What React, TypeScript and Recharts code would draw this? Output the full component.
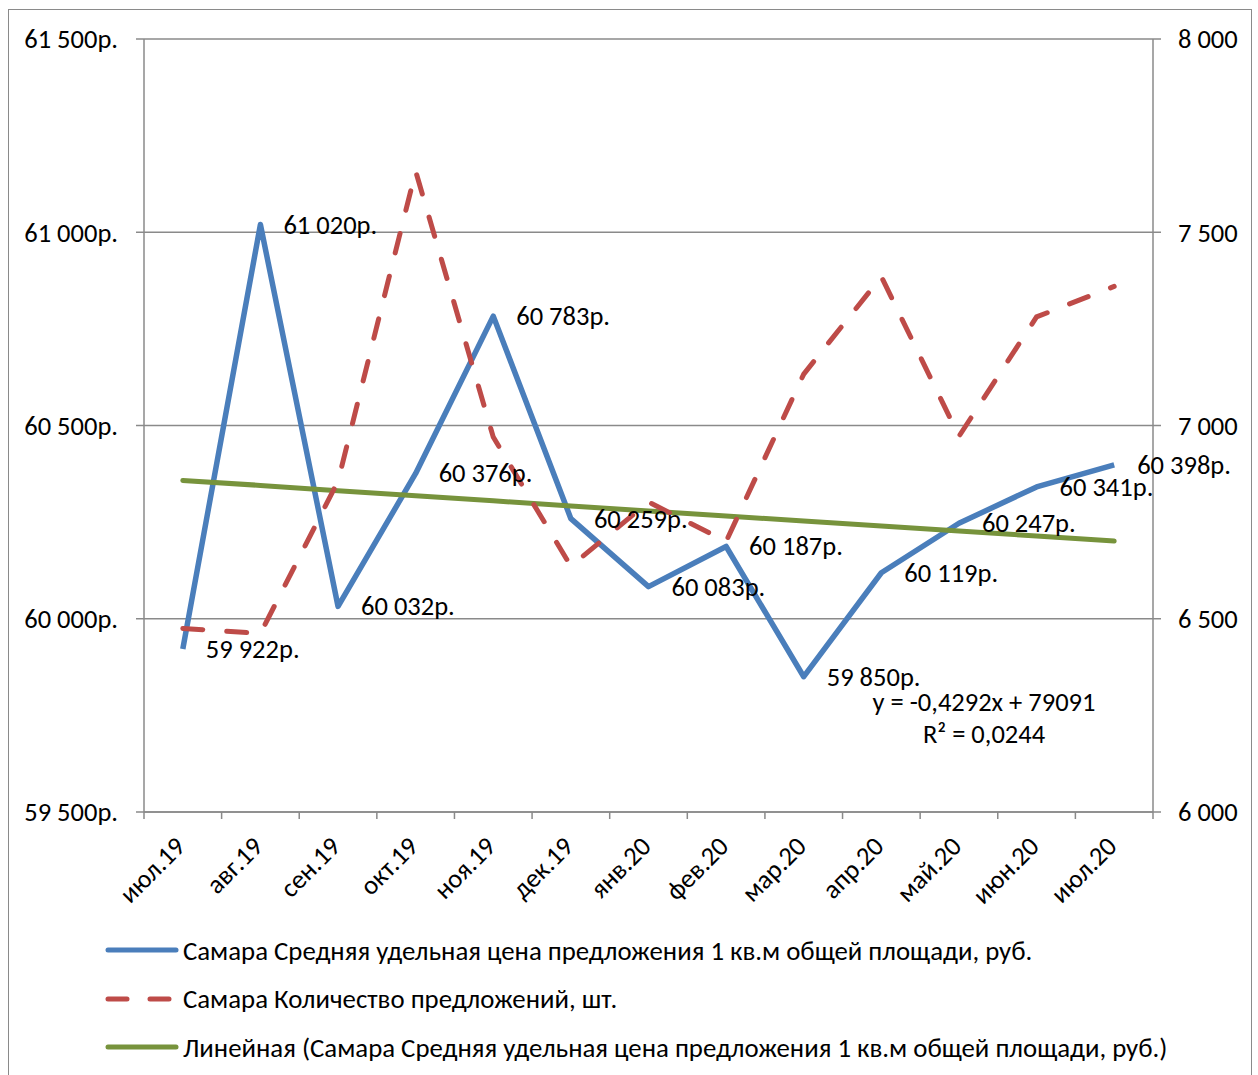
import { ComposedChart, Line, XAxis, YAxis, CartesianGrid, LabelList } from 'recharts';

const months = ['июл.19', 'авг.19', 'сен.19', 'окт.19', 'ноя.19', 'дек.19', 'янв.20', 'фев.20', 'мар.20', 'апр.20', 'май.20', 'июн.20', 'июл.20'];
const price = [59922, 61020, 60032, 60376, 60783, 60259, 60083, 60187, 59850, 60119, 60247, 60341, 60398];
const offers = [6475, 6462, 6856, 7658, 6970, 6636, 6802, 6700, 7133, 7385, 6972, 7281, 7360];
// linear trend (y = -0,4292x + 79091)
const trend = [60358, 60345, 60331, 60318, 60305, 60292, 60279, 60266, 60253, 60240, 60227, 60214, 60201];
const leftTicks = [59500, 60000, 60500, 61000, 61500];
const rightTicks = [6000, 6500, 7000, 7500, 8000];

const data = months.map((m, i) => ({ month: m, price: price[i], offers: offers[i], trend: trend[i] }));

const FONT = 'Carlito, Calibri, "Open Sans", sans-serif';
const FS = 26.5;
const AXIS = '#8a8a8a';
const BAND = (1153 - 144) / months.length;

const fmt = (v: number) => String(v).replace(/\B(?=(\d{3})+(?!\d))/g, ' ');

const XTick = (props: any) => {
  const { x, y, payload, index } = props;
  const h = BAND / 2;
  return (
    <g>
      <line x1={x - h} x2={x - h} y1={y} y2={y + 7} stroke={AXIS} strokeWidth={1.5} />
      {index === months.length - 1 && <line x1={x + h} x2={x + h} y1={y} y2={y + 7} stroke={AXIS} strokeWidth={1.5} />}
      <text x={x + 4} y={y + 36} textAnchor="end" transform={`rotate(-45, ${x + 4}, ${y + 36})`}
        fontFamily={FONT} fontSize={FS} fill="#000">{payload.value}</text>
    </g>
  );
};

const PriceLabel = (props: any) => {
  const { x, y, value } = props;
  return (
    <text x={x + 23} y={y + 9} fontFamily={FONT} fontSize={FS} fill="#000">{fmt(value)}р.</text>
  );
};

const legendItems = [
  { label: 'Самара Средняя удельная цена предложения 1 кв.м общей площади, руб.', color: '#4a7ebb', dash: undefined },
  { label: 'Самара Количество предложений, шт.', color: '#be4b48', dash: '19 23' },
  { label: 'Линейная (Самара Средняя удельная цена предложения 1 кв.м общей площади, руб.)', color: '#77933c', dash: undefined },
];

export default function App() {
  return (
    <div style={{ position: 'absolute', left: 0, top: 0, width: 1258, height: 1075, background: '#fff', overflow: 'hidden' }}>
      <div style={{ position: 'absolute', left: 8, top: 9, width: 1242, height: 1080, border: '1px solid #8a8a8a' }} />
      <ComposedChart width={1258} height={1075} data={data}
        margin={{ top: 39, right: 10, left: 8, bottom: 163 }} style={{ position: 'absolute', left: 0, top: 0 }}>
        <CartesianGrid yAxisId="left" vertical={false} stroke={AXIS} strokeWidth={1.5} />
        <XAxis dataKey="month" interval={0} height={100} tickSize={0} tickMargin={0} tickLine={false}
          padding={{ left: BAND / 2, right: BAND / 2 }}
          axisLine={{ stroke: AXIS, strokeWidth: 1.5 }} tick={<XTick />} />
        <YAxis yAxisId="left" domain={[59500, 61500]} ticks={leftTicks} width={136} tickSize={8} tickMargin={18}
          tickFormatter={(v: number) => `${fmt(v)}р.`} stroke={AXIS} strokeWidth={1.5}
          tick={{ fill: '#000', fontSize: FS, fontFamily: FONT }} />
        <YAxis yAxisId="right" orientation="right" domain={[6000, 8000]} ticks={rightTicks} width={95} tickSize={8} tickMargin={17}
          tickFormatter={(v: number) => fmt(v)} stroke={AXIS} strokeWidth={1.5}
          tick={{ fill: '#000', fontSize: FS, fontFamily: FONT, textAnchor: 'start' }} />
        <Line yAxisId="left" dataKey="price" stroke="#4a7ebb" strokeWidth={5.5} dot={false} isAnimationActive={false} strokeLinejoin="round">
          <LabelList dataKey="price" content={<PriceLabel />} />
        </Line>
        <Line yAxisId="left" dataKey="trend" stroke="#77933c" strokeWidth={5} dot={false} isAnimationActive={false} strokeLinecap="round" />
        <Line yAxisId="right" dataKey="offers" stroke="#be4b48" strokeWidth={5} strokeDasharray="20 24" strokeLinecap="round"
          dot={false} isAnimationActive={false} />
      </ComposedChart>
      <div style={{ position: 'absolute', left: 862, top: 686, fontFamily: FONT, fontSize: FS, color: '#000', width: 244, textAlign: 'center', lineHeight: '32px' }}>
        <div>y = -0,4292x + 79091</div>
        <div>R² = 0,0244</div>
      </div>
      {legendItems.map((it, i) => (
        <div key={i} style={{ position: 'absolute', left: 104, top: 934 + i * 48.5, height: 32, display: 'flex', alignItems: 'center' }}>
          <svg width={78} height={10}>
            <line x1={4} x2={72} y1={5} y2={5} stroke={it.color} strokeWidth={5} strokeLinecap="round" strokeDasharray={it.dash} />
          </svg>
          <span style={{ fontFamily: FONT, fontSize: 26.8, color: '#000', marginLeft: 1, whiteSpace: 'nowrap' }}>{it.label}</span>
        </div>
      ))}
    </div>
  );
}
